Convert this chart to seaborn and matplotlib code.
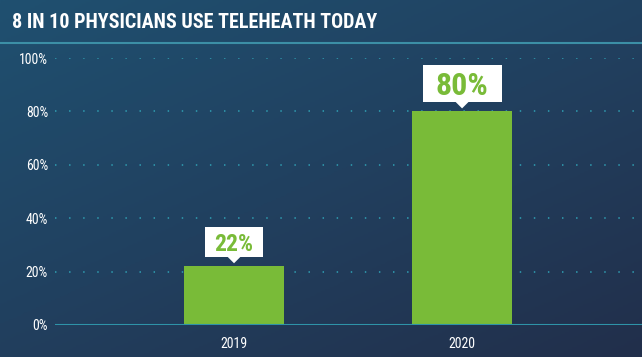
import numpy as np
import pandas as pd
import seaborn as sns
import matplotlib.pyplot as plt
from matplotlib import transforms
from matplotlib.patches import Rectangle, Polygon
from matplotlib.colors import LinearSegmentedColormap

years = ["2019", "2020"]
shares = [22, 80]
yticks = [0, 20, 40, 60, 80, 100]
title = "8 IN 10 PHYSICIANS USE TELEHEATH TODAY"

df = pd.DataFrame({"year": years, "share": shares})

sns.set_style("white")
plt.rcParams["font.family"] = ["Roboto Condensed", "Roboto", "DejaVu Sans"]

W, H = 642, 357
fig = plt.figure(figsize=(W / 100, H / 100), dpi=100)

# background gradient
bg = fig.add_axes([0, 0, 1, 1])
yy, xx = np.mgrid[0:1:200j, 0:1:300j]
t = np.clip(0.55 * yy + 0.45 * xx, 0, 1)
cmap = LinearSegmentedColormap.from_list("bg", ["#1f5070", "#21405f", "#222f4b"])
bg.imshow(t, cmap=cmap, aspect="auto", extent=[0, 1, 0, 1], origin="upper")
bg.axhline(1 - 43 / H, color="#3c8fa6", lw=1.5)
bg.text(12 / W, 1 - 23 / H, title, color="white", fontsize=14.5, fontweight="bold",
        va="center", ha="left")
bg.set_axis_off()

ax = fig.add_axes([55 / W, (H - 325) / H, (W - 55) / W, (325 - 58) / H])
ax.patch.set_alpha(0)
for y in yticks[1:]:
    ax.axhline(y, color="#2e93a8", lw=1.3, ls=(0, (0.8, 7)), zorder=0)
ax.axhline(0, color="#2e93a8", lw=1.5, zorder=3)

sns.barplot(data=df, x="year", y="share", color="#79bb38", saturation=1,
            width=0.44, linewidth=0, ax=ax, zorder=2)

ax.set_xlim(-0.785, 1.789)
ax.set_ylim(0, 100)
ax.set_yticks(yticks)
ax.set_yticklabels([f"{v}%" for v in yticks])
ax.tick_params(colors="white", labelsize=10, length=0)
ax.tick_params(axis="y", pad=5)
ax.tick_params(axis="x", pad=9)
ax.set_xlabel("")
ax.set_ylabel("")
sns.despine(ax=ax, left=True, bottom=True, right=True, top=True)

# value callouts (box sizes in pixels, anchored on bar tops)
sizes = [17, 23]
box_w = [58, 79]
box_h = [30, 37]
for i, (v, fs, bw, bh) in enumerate(zip(shares, sizes, box_w, box_h)):
    tr = fig.dpi_scale_trans + transforms.ScaledTranslation(i, v, ax.transData)
    b0 = 0.095
    ax.add_patch(Rectangle((-bw / 200, b0), bw / 100, bh / 100, fc="white",
                           ec="none", transform=tr, zorder=5, clip_on=False))
    ax.add_patch(Polygon([(-0.07, b0 + 0.005), (0.07, b0 + 0.005), (0, 0.03)],
                         fc="white", ec="none", transform=tr, zorder=5,
                         clip_on=False))
    ax.text(0, b0 + bh / 200, f"{v}%", ha="center", va="center_baseline",
            color="#79bb38", fontsize=fs, fontweight="bold", transform=tr,
            zorder=6)

fig.savefig("out.png", dpi=100)
